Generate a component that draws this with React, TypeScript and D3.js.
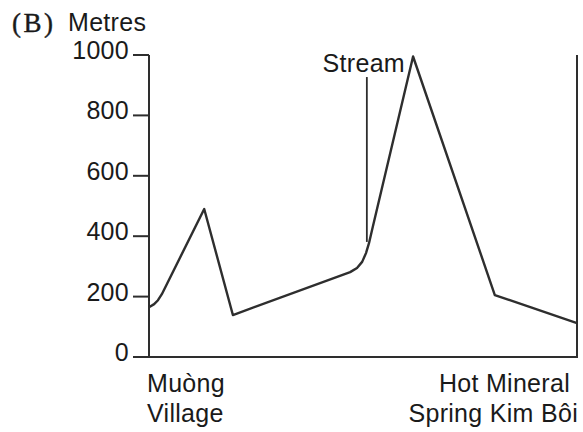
import React from "react";
import * as d3 from "d3";

const distance = [0, 1.2, 2.1, 3.0, 12.9, 19.6, 47.0, 48.6, 49.8, 50.7, 51.4, 52.1, 61.7, 80.8, 100];
const elevation = [165, 175, 188, 208, 490, 139, 281, 295, 315, 344, 377, 420, 995, 205, 112];
const yTicks = [0, 200, 400, 600, 800, 1000];
const streamX = 50.9;
const streamRange = [381, 927];
const startLabel = ["Muòng", "Village"];
const endLabel = ["Hot Mineral", "Spring Kim Bôi"];

const W = 583;
const H = 432;

export default function App() {
  const x = d3.scaleLinear().domain([0, 100]).range([149, 577]);
  const y = d3.scaleLinear().domain([0, 1000]).range([357, 55]);
  const pts = distance.map((d, i) => [d, elevation[i]] as [number, number]);
  const line = d3
    .line<[number, number]>()
    .x((d) => x(d[0]))
    .y((d) => y(d[1]))
    .curve(d3.curveLinear);
  const font = "'Liberation Sans', Arial, Helvetica, sans-serif";
  const stroke = "#2e2e2e";
  const fs = 25;
  const ls = 0.3;
  return (
    <svg
      width={W}
      height={H}
      style={{ position: "absolute", left: 0, top: 0, background: "#fff" }}
    >
      <text x={12} y={32} fontFamily="'Liberation Serif', 'Times New Roman', serif" fontSize={27} fill="#1a1a1a" letterSpacing={2.5} stroke="#1a1a1a" strokeWidth={0.4}>
        (B)
      </text>
      <text x={68} y={31} fontFamily={font} fontSize={fs} letterSpacing={ls} fill="#1a1a1a">
        Metres
      </text>
      {/* y axis */}
      <line x1={x(0)} x2={x(0)} y1={y(1000)} y2={y(0)} stroke={stroke} strokeWidth={2} />
      {yTicks.map((t) => (
        <g key={t}>
          <line x1={133} x2={x(0)} y1={y(t)} y2={y(t)} stroke={stroke} strokeWidth={2} />
          <text x={129} y={y(t) + 4} textAnchor="end" fontFamily={font} fontSize={fs} letterSpacing={ls} fill="#1a1a1a">
            {t}
          </text>
        </g>
      ))}
      {/* bottom axis */}
      <line x1={133} x2={x(100) + 1} y1={y(0)} y2={y(0)} stroke={stroke} strokeWidth={2} />
      {/* right vertical */}
      <line x1={x(100)} x2={x(100)} y1={y(1000)} y2={y(0)} stroke={stroke} strokeWidth={2} />
      {/* profile */}
      <path d={line(pts) || ""} fill="none" stroke={stroke} strokeWidth={2.4} strokeLinejoin="round" />
      {/* stream */}
      <line x1={x(streamX)} x2={x(streamX)} y1={y(streamRange[0])} y2={y(streamRange[1])} stroke={stroke} strokeWidth={1.8} />
      <text x={405} y={72} textAnchor="end" fontFamily={font} fontSize={fs} letterSpacing={ls} fill="#1a1a1a">
        Stream
      </text>
      {/* place labels */}
      {startLabel.map((s, i) => (
        <text key={s} x={147} y={392 + i * 30} fontFamily={font} fontSize={fs} letterSpacing={ls} fill="#1a1a1a">
          {s}
        </text>
      ))}
      <text x={570} y={392} textAnchor="end" fontFamily={font} fontSize={fs} letterSpacing={ls} fill="#1a1a1a">
        {endLabel[0]}
      </text>
      <text x={578} y={422} textAnchor="end" fontFamily={font} fontSize={fs} letterSpacing={ls} fill="#1a1a1a">
        {endLabel[1]}
      </text>
    </svg>
  );
}
